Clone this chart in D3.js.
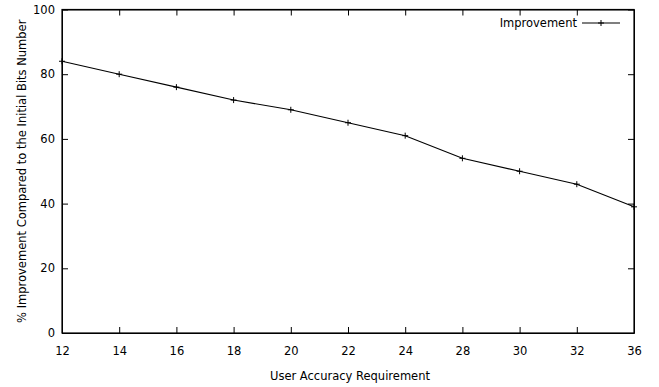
<!DOCTYPE html>
<html>
<head>
<meta charset="utf-8">
<script src="https://cdn.jsdelivr.net/npm/d3@7"></script>
<style>
  body { margin: 0; background: #fff; }
  text { font-family: "DejaVu Sans", sans-serif; fill: #000; }
</style>
</head>
<body>
<div id="chart"></div>
<script>
// data
var accuracy = ["12", "14", "16", "18", "20", "22", "24", "28", "30", "32", "36"];
var improvement = [84, 80, 76, 72, 69, 65, 61, 54, 50, 46, 39];
var yTicks = [0, 20, 40, 60, 80, 100];
var seriesName = "Improvement";

var svgWidth = 659;
var svgHeight = 387;

var margin = { top: 9.5, right: 25, bottom: 54, left: 62 };
var width = svgWidth - margin.left - margin.right;
var height = svgHeight - margin.top - margin.bottom;

var svg = d3.select("#chart")
  .append("svg")
  .attr("width", svgWidth)
  .attr("height", svgHeight);

var chartGroup = svg.append("g")
  .attr("transform", `translate(${margin.left}, ${margin.top})`);

var xScale = d3.scalePoint()
  .domain(accuracy)
  .range([0, width]);

var yScale = d3.scaleLinear()
  .domain([0, 100])
  .range([height, 0]);

var fs = 11.5;
var plus = "M-3,0H3M0,-3V3";

// bottom axis with labels, ticks pointing inward
chartGroup.append("g")
  .attr("transform", `translate(0, ${height})`)
  .call(d3.axisBottom(xScale).tickSizeInner(-6).tickSizeOuter(0).tickPadding(13.5));

// left axis
chartGroup.append("g")
  .call(d3.axisLeft(yScale).tickValues(yTicks).tickSizeInner(-6).tickSizeOuter(0).tickPadding(7));

// mirrored ticks on top and right, no labels
chartGroup.append("g")
  .call(d3.axisTop(xScale).tickSizeInner(-6).tickSizeOuter(0).tickFormat(""));
chartGroup.append("g")
  .attr("transform", `translate(${width}, 0)`)
  .call(d3.axisRight(yScale).tickValues(yTicks).tickSizeInner(-6).tickSizeOuter(0).tickFormat(""));

chartGroup.selectAll(".tick text")
  .style("font-size", fs + "px")
  .style("font-family", "DejaVu Sans, sans-serif")
  .attr("fill", "#000");
chartGroup.selectAll(".tick line").attr("stroke", "#000");
chartGroup.selectAll(".domain").attr("stroke", "#000");

// frame
chartGroup.append("rect")
  .attr("width", width)
  .attr("height", height)
  .attr("fill", "none")
  .attr("stroke", "#000")
  .attr("stroke-width", 1.2);

// line
var data = accuracy.map(function (d, i) {
  return { x: d, y: improvement[i] };
});

var line = d3.line()
  .x(d => xScale(d.x))
  .y(d => yScale(d.y));

chartGroup.append("path")
  .datum(data)
  .attr("d", line)
  .attr("fill", "none")
  .attr("stroke", "#000")
  .attr("stroke-width", 1.1);

// plus markers
chartGroup.selectAll(".pt")
  .data(data)
  .enter()
  .append("path")
  .attr("class", "pt")
  .attr("transform", d => `translate(${xScale(d.x)}, ${yScale(d.y)})`)
  .attr("d", plus)
  .attr("stroke", "#000")
  .attr("stroke-width", 1);

// legend
var legend = svg.append("g")
  .attr("transform", "translate(577, 23)");
legend.append("text")
  .attr("text-anchor", "end")
  .attr("dy", "0.35em")
  .style("font-size", fs + "px")
  .text(seriesName);
legend.append("line")
  .attr("x1", 5).attr("x2", 43)
  .attr("stroke", "#000")
  .attr("stroke-width", 1.1);
legend.append("path")
  .attr("transform", "translate(24, 0)")
  .attr("d", plus)
  .attr("stroke", "#000");

// y axis label
svg.append("text")
  .attr("transform", `translate(22, ${margin.top + height / 2}) rotate(-90)`)
  .attr("text-anchor", "middle")
  .attr("dy", "0.35em")
  .style("font-size", fs + "px")
  .text("% Improvement Compared to the Initial Bits Number");

// x axis label
svg.append("text")
  .attr("x", margin.left + width / 2 + 2)
  .attr("y", 380)
  .attr("text-anchor", "middle")
  .style("font-size", fs + "px")
  .text("User Accuracy Requirement");
</script>
</body>
</html>
